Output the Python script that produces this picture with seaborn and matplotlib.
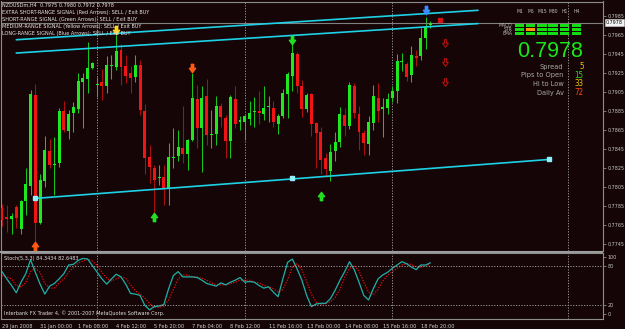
import numpy as np
import pandas as pd
import seaborn as sns
import matplotlib
matplotlib.use('Agg')
import matplotlib.pyplot as plt
from matplotlib.path import Path
from matplotlib.patches import Rectangle
from matplotlib.transforms import blended_transform_factory
from matplotlib import font_manager as fm
from matplotlib.font_manager import FontProperties

# ---------------- data ----------------
opens = [0.7783, 0.7773, 0.7771, 0.7784, 0.7761, 0.7790, 0.7806, 0.7902, 0.7767, 0.7811,
         0.7843, 0.7828, 0.7830, 0.7885, 0.7864, 0.7883, 0.7887, 0.7916, 0.7919, 0.7930,
         0.7912, 0.7915, 0.7911, 0.7932, 0.7931, 0.7949, 0.7932, 0.7925, 0.7921, 0.7933,
         0.7885, 0.7837, 0.7825, 0.7814, 0.7816, 0.7804, 0.7836, 0.7838, 0.7846, 0.7840,
         0.7854, 0.7898, 0.7867, 0.7901, 0.7860, 0.7861, 0.7890, 0.7878, 0.7853, 0.7898,
         0.7873, 0.7873, 0.7877, 0.7884, 0.7885, 0.7882, 0.7889, 0.7888, 0.7871, 0.7880,
         0.7903, 0.7922, 0.7945, 0.7911, 0.7887, 0.7903, 0.7872, 0.7863, 0.7835, 0.7822,
         0.7843, 0.7852, 0.7881, 0.7869, 0.7911, 0.7882, 0.7862, 0.7850, 0.7872, 0.7899,
         0.7887, 0.7888, 0.7899, 0.7906, 0.7937, 0.7934, 0.7923, 0.7943, 0.7943, 0.7962,
         0.7975]
highs = [0.7787, 0.7786, 0.7778, 0.7786, 0.7791, 0.7825, 0.7907, 0.7913, 0.7819, 0.7859,
         0.7855, 0.7858, 0.7888, 0.7896, 0.7886, 0.7894, 0.7925, 0.7925, 0.7958, 0.7937,
         0.7921, 0.7929, 0.7943, 0.7944, 0.7965, 0.7956, 0.7944, 0.7932, 0.7944, 0.7939,
         0.7892, 0.7849, 0.7828, 0.7828, 0.7828, 0.7851, 0.7867, 0.7865, 0.7890, 0.7856,
         0.7925, 0.7912, 0.7911, 0.7919, 0.7886, 0.7901, 0.7893, 0.7881, 0.7902, 0.7911,
         0.7880, 0.7881, 0.7895, 0.7900, 0.7906, 0.7911, 0.7901, 0.7896, 0.7882, 0.7908,
         0.7926, 0.7956, 0.7947, 0.7918, 0.7904, 0.7904, 0.7873, 0.7868, 0.7841, 0.7850,
         0.7863, 0.7889, 0.7888, 0.7916, 0.7914, 0.7890, 0.7865, 0.7880, 0.7912, 0.7914,
         0.7899, 0.7904, 0.7911, 0.7945, 0.7946, 0.7937, 0.7953, 0.7949, 0.7972, 0.7984,
         0.7980]
lows = [0.7764, 0.7758, 0.7756, 0.7762, 0.7756, 0.7775, 0.7797, 0.7746, 0.7766, 0.7805,
        0.7825, 0.7797, 0.7826, 0.7863, 0.7856, 0.7863, 0.7883, 0.7867, 0.7904, 0.7929,
        0.7900, 0.7897, 0.7904, 0.7919, 0.7928, 0.7912, 0.7914, 0.7904, 0.7916, 0.7881,
        0.7819, 0.7809, 0.7777, 0.7807, 0.7786, 0.7786, 0.7825, 0.7832, 0.7830, 0.7823,
        0.7853, 0.7846, 0.7821, 0.7849, 0.7846, 0.7849, 0.7868, 0.7835, 0.7835, 0.7867,
        0.7865, 0.7854, 0.7870, 0.7868, 0.7871, 0.7875, 0.7873, 0.7868, 0.7861, 0.7878,
        0.7878, 0.7906, 0.7904, 0.7879, 0.7884, 0.7859, 0.7825, 0.7819, 0.7816, 0.7811,
        0.7832, 0.7847, 0.7859, 0.7866, 0.7878, 0.7844, 0.7839, 0.7839, 0.7865, 0.7873,
        0.7858, 0.7882, 0.7894, 0.7893, 0.7927, 0.7917, 0.7916, 0.7932, 0.7939, 0.7950,
        0.7972]
closes = [0.7770, 0.7771, 0.7774, 0.7772, 0.7790, 0.7808, 0.7903, 0.7767, 0.7812, 0.7844,
          0.7828, 0.7829, 0.7885, 0.7865, 0.7882, 0.7889, 0.7917, 0.7920, 0.7930, 0.7936,
          0.7913, 0.7911, 0.7933, 0.7933, 0.7948, 0.7931, 0.7922, 0.7920, 0.7933, 0.7886,
          0.7835, 0.7826, 0.7812, 0.7815, 0.7804, 0.7837, 0.7837, 0.7847, 0.7840, 0.7854,
          0.7899, 0.7867, 0.7899, 0.7860, 0.7861, 0.7890, 0.7879, 0.7853, 0.7900, 0.7871,
          0.7875, 0.7880, 0.7883, 0.7885, 0.7883, 0.7888, 0.7890, 0.7873, 0.7880, 0.7904,
          0.7924, 0.7946, 0.7911, 0.7887, 0.7902, 0.7871, 0.7862, 0.7833, 0.7824, 0.7842,
          0.7852, 0.7882, 0.7869, 0.7912, 0.7883, 0.7863, 0.7851, 0.7873, 0.7901, 0.7885,
          0.7889, 0.7898, 0.7906, 0.7938, 0.7938, 0.7921, 0.7944, 0.7941, 0.7962, 0.7973,
          0.7978]
stoch_main = [71, 60, 50, 39, 55, 68, 89, 70, 52, 37,
              49, 53, 60, 68, 81, 82, 88, 91, 90, 80,
              70, 60, 52, 60, 67, 63, 52, 38, 37, 35,
              20, 13, 18, 19, 21, 45, 65, 71, 63, 63,
              63, 62, 58, 53, 51, 49, 54, 51, 55, 58,
              62, 55, 56, 55, 50, 46, 48, 40, 33, 60,
              85, 90, 75, 58, 35, 18, 22, 23, 23, 30,
              43, 58, 71, 86, 74, 55, 35, 28, 45, 60,
              66, 70, 76, 81, 86, 83, 78, 74, 81, 81,
              84.3434]
stoch_signal = [65, 63, 60, 50, 48, 54, 71, 76, 70, 53,
                46, 46, 54, 60, 70, 77, 84, 87, 90, 87,
                80, 70, 61, 57, 60, 63, 61, 51, 42, 37,
                31, 23, 17, 17, 19, 28, 44, 60, 66, 66,
                63, 63, 61, 58, 54, 51, 51, 51, 53, 55,
                58, 58, 58, 55, 54, 50, 48, 45, 40, 44,
                59, 78, 83, 74, 56, 37, 25, 21, 23, 25,
                32, 44, 62, 76, 80, 72, 55, 40, 36, 44,
                57, 65, 71, 76, 81, 83, 82, 78, 78, 79,
                82.6483]
date_ticks = [0, 8, 16, 24, 32, 40, 48, 56, 64, 72, 80, 88]
date_labels = ['29 Jan 2008', '31 Jan 00:00', '1 Feb 08:00', '4 Feb 12:00', '5 Feb 20:00',
               '7 Feb 04:00', '8 Feb 12:00', '11 Feb 16:00', '13 Feb 00:00', '14 Feb 08:00',
               '15 Feb 16:00', '18 Feb 20:00']
price_ticks = [0.7745, 0.7765, 0.7785, 0.7805, 0.7825, 0.7845, 0.7865, 0.7885,
               0.7905, 0.7925, 0.7945, 0.7965, 0.7985]
grid_bars = [20, 51, 82, 119]
# channel lines (bar index, price)
chan_upper_x = [3, 100]
chan_upper_y = [0.7960, 0.7991]
chan_mid_x = [3, 100]
chan_mid_y = [0.7946, 0.7977]
chan_low_x = [7, 115]
chan_low_y = [0.7793, 0.7834]
chan_pts_x = [7, 61, 115]
chan_pts_y = [0.7793, 0.7814, 0.7834]
# signal arrows
arrow_up_x = [7, 32, 67]
arrow_up_y = [0.7743, 0.7773, 0.7796]
arrow_up_c = ['#ff5a14', '#22e022', '#22e022']
arrow_dn_x = [24, 40, 61, 89]
arrow_dn_y = [0.7970, 0.7930, 0.7960, 0.7991]
arrow_dn_c = ['#ffd21e', '#ff5a14', '#22e022', '#3a8cff']
hollow_dn_x = [93, 93, 93]
hollow_dn_y = [0.7957, 0.7937, 0.7916]
last_price = 0.7978
tf_labels = ['M1', 'M5', 'M15', 'M30', 'H1', 'H4']
row_labels = ['MACD', 'STR', 'EMA']
info_labels = ['Spread', 'Pips to Open', 'Hi to Low', 'Daily Av']
info_values = ['5', '15', '33', '72']
info_colors = ['#f0c800', '#22e022', '#f0c800', '#ff4a1a']
header_lines = ['NZDUSDm,H4  0.7975 0.7980 0.7972 0.7978',
                'EXTRA SHORT-RANGE SIGNAL (Red Arrows): SELL / Exit BUY',
                'SHORT-RANGE SIGNAL (Green Arrows): SELL / Exit BUY',
                'MEDIUM-RANGE SIGNAL (Yellow Arrows): SELL / Exit BUY',
                'LONG-RANGE SIGNAL (Blue Arrows): SELL / Exit BUY']

# ---------------- style ----------------
BG = '#150507'
sns.set_style('dark', rc={'axes.facecolor': BG, 'figure.facecolor': BG})
plt.rcParams['font.family'] = ['Liberation Sans', 'DejaVu Sans']

# look for a narrow / condensed face (MT4 text is narrow)
narrow_file = None
for f in fm.fontManager.ttflist:
    n = f.name.lower()
    w_ok = f.weight in (400, 'normal', 'regular', 'book')
    if f.style == 'normal' and w_ok and ('narrow' in n or 'condensed' in n or
                                         f.stretch in ('condensed', 'semi-condensed')):
        if 'mono' in n or ('serif' in n and 'sans' not in n):
            continue
        narrow_file = f.fname
        break


def fp(size):
    if narrow_file:
        return FontProperties(fname=narrow_file, size=size)
    return FontProperties(family=['Liberation Sans', 'DejaVu Sans'], size=size)


W, H = 625, 329
fig = plt.figure(figsize=(W / 100, H / 100), dpi=100, facecolor=BG)
renderer = fig.canvas.get_renderer()


def fit(s, target_px, base=6.0):
    t = fig.text(0, 0, s, fontproperties=fp(base))
    w = t.get_window_extent(renderer).width
    t.remove()
    return base * target_px / w


def fx(x):
    return x / W


def fy(y):
    return 1 - y / H


S_HDR = min(fit(header_lines[1], 148), 4.8)
S_DATE = min(fit(date_labels[0], 30.5), 4.6)
S_PRICE = min(fit('0.7985', 16.8), 4.8)
S_INFO = 5.3
S_VAL = 5.8
S_TF = 3.6

ax = fig.add_axes([fx(1), fy(250.8), fx(602.7) - fx(1), fy(1.5) - fy(250.8)])
axs = fig.add_axes([fx(1), fy(319.3), fx(602.7) - fx(1), fy(253) - fy(319.3)], sharex=ax)
for a in (ax, axs):
    a.set_facecolor(BG)
    for s in a.spines.values():
        s.set_color('#8c8c8c')
        s.set_linewidth(0.8)
    a.grid(False)

df = pd.DataFrame({'bar': np.arange(len(opens)), 'open': opens, 'high': highs,
                   'low': lows, 'close': closes})
bull = df['close'] >= df['open']
ax.vlines(df['bar'][bull], df['low'][bull], df['high'][bull], color='#19c419', lw=0.75)
ax.vlines(df['bar'][~bull], df['low'][~bull], df['high'][~bull], color='#a81010', lw=0.75)
heights = (df['close'] - df['open']).abs().clip(lower=0.00008)
ax.bar(df['bar'], heights, bottom=np.minimum(df['open'], df['close']), width=0.62,
       color=np.where(bull, '#1ee81e', '#f01414'), linewidth=0, zorder=3)

# grid & bid line
for b in grid_bars:
    for a in (ax, axs):
        a.axvline(b, color='#9a9a9a', lw=0.7, ls=(0, (1.2, 1.6)), zorder=1)
ax.axhline(last_price, color='#808080', lw=0.8, zorder=2)

# channel lines
for xs, ys in ((chan_upper_x, chan_upper_y), (chan_mid_x, chan_mid_y), (chan_low_x, chan_low_y)):
    sns.lineplot(x=xs, y=ys, ax=ax, color='#1ed2e6', lw=1.2, zorder=4)
ax.plot(chan_pts_x, chan_pts_y, 's', ms=2.6, color='#8ff0f8', zorder=5)

# arrows
dn_verts = [(-0.28, 1), (0.28, 1), (0.28, 0.05), (0.75, 0.05), (0, -1), (-0.75, 0.05),
            (-0.28, 0.05), (-0.28, 1)]
codes = [Path.MOVETO] + [Path.LINETO] * 6 + [Path.CLOSEPOLY]
dn_path = Path(dn_verts, codes)
up_path = Path([(x, -y) for x, y in dn_verts], codes)
for x, y, c in zip(arrow_up_x, arrow_up_y, arrow_up_c):
    ax.plot([x], [y], marker=up_path, ms=6, color=c, mec=c, lw=0, zorder=6)
for x, y, c in zip(arrow_dn_x, arrow_dn_y, arrow_dn_c):
    ax.plot([x], [y], marker=dn_path, ms=6, color=c, mec=c, lw=0, zorder=6)
ax.plot(hollow_dn_x, hollow_dn_y, marker=dn_path, ms=5.5, lw=0, mfc='none', mec='#b01010',
        mew=0.8, zorder=6)
ax.plot([92], [0.7981], marker='X', ms=3.2, color='#e01010', lw=0, zorder=6)

ax.set_xlim(-0.21, 126.2)
ax.set_ylim(0.773784, 0.800026)

ax.yaxis.tick_right()
ax.set_yticks(price_ticks)
ax.set_yticklabels([f'{p:.4f}' for p in price_ticks], fontproperties=fp(S_PRICE))
ax.tick_params(axis='y', colors='#8c8c8c', labelcolor='#c8c8c8', length=2, pad=1.2, width=0.6)
ax.tick_params(axis='x', bottom=False, labelbottom=False)
ax.text(1.005, last_price, f'{last_price:.4f}',
        transform=blended_transform_factory(ax.transAxes, ax.transData),
        fontproperties=fp(S_PRICE), color='black', ha='left', va='center',
        bbox=dict(boxstyle='square,pad=0.15', fc='#f2f2f2', ec='#c0c0c0', lw=0.5), zorder=10,
        clip_on=False)

# stochastic
sd = pd.DataFrame({'bar': np.arange(len(stoch_main)), 'main': stoch_main, 'signal': stoch_signal})
sns.lineplot(data=sd, x='bar', y='signal', ax=axs, color='#e01010', lw=0.9, ls=(0, (1, 1.2)))
sns.lineplot(data=sd, x='bar', y='main', ax=axs, color='#1fb0a8', lw=0.9)
for lv in (80, 20):
    axs.axhline(lv, color='#9a9a9a', lw=0.7, ls=(0, (1.2, 1.6)))
axs.set_ylim(-1.2, 99.2)
axs.yaxis.tick_right()
axs.set_yticks([92.7, 80, 20, 6.4])
axs.set_yticklabels(['100', '80', '20', '0'], fontproperties=fp(S_PRICE))
axs.tick_params(axis='y', colors='#8c8c8c', labelcolor='#c8c8c8', length=2, pad=1.2, width=0.6)
axs.set_xticks(date_ticks)
axs.set_xticklabels(date_labels, fontproperties=fp(S_DATE))
axs.tick_params(axis='x', colors='#8c8c8c', labelcolor='#d2d2d2', length=2.5,
                pad=0.6, width=0.6, direction='out')
for lbl in axs.get_xticklabels():
    lbl.set_ha('left')
for a in (ax, axs):
    a.set_xlabel('')
    a.set_ylabel('')
axs.set_xlim(-0.21, 126.2)

# separator between panels
fig.add_artist(Rectangle((0, fy(253)), fx(603), fy(250.8) - fy(253), transform=fig.transFigure,
                         fc='#9c9c9c', ec='none', zorder=20))

# header texts
for i, t in enumerate(header_lines):
    fig.text(fx(2), fy(5.2 + 7.05 * i), t, fontproperties=fp(S_HDR), color='#e6e6e6',
             ha='left', va='center', zorder=30)
fig.text(fx(3.5), fy(258.3), 'Stoch(5,3,3) 84.3434 82.6483', fontproperties=fp(S_HDR),
         color='#e0e0e0', ha='left', va='center', zorder=30)
fig.text(fx(3.5), fy(313.3), 'Interbank FX Trader 4, \u00a9 2001-2007 MetaQuotes Software Corp.',
         fontproperties=fp(S_HDR), color='#e0e0e0', ha='left', va='center', zorder=30)

# info panel
col_x = [515, 526, 537.3, 548.3, 560, 571.7]
row_y = [24.4, 28.4, 32.4]
for j, t in enumerate(tf_labels):
    fig.text(fx(col_x[j] + 4.7), fy(11.7), t, fontproperties=fp(S_TF), color='#c0c0c0',
             ha='center', va='center', zorder=30)
for i, t in enumerate(row_labels):
    fig.text(fx(512.5), fy(row_y[i] + 1.2), t, fontproperties=fp(S_TF), color='#c0c0c0',
             ha='right', va='center', zorder=30)
    for j in range(len(tf_labels)):
        c = '#ff9a00' if (i == 1 and j == 1) else '#12de12'
        fig.add_artist(Rectangle((fx(col_x[j]), fy(row_y[i] + 2.5)), 9.4 / W, 2.5 / H,
                                 transform=fig.transFigure, fc=c, ec='none', zorder=30))
fig.text(fx(583.5), fy(56.7), f'{last_price:.4f}', fontsize=15.5, color='#18e818', ha='right',
         va='baseline', family=['Liberation Sans', 'DejaVu Sans'], zorder=30)
info_y = [66.7, 75.3, 84.0, 92.7]
for lab, val, col, y in zip(info_labels, info_values, info_colors, info_y):
    fig.text(fx(563.5), fy(y), lab, fontproperties=fp(S_INFO), color='#aaaaaa', ha='right',
             va='center', zorder=30)
    fig.text(fx(583.5), fy(y), val, fontproperties=fp(S_VAL), color=col, ha='right',
             va='center', zorder=30)

fig.savefig('out.png', dpi=100, facecolor=BG)
